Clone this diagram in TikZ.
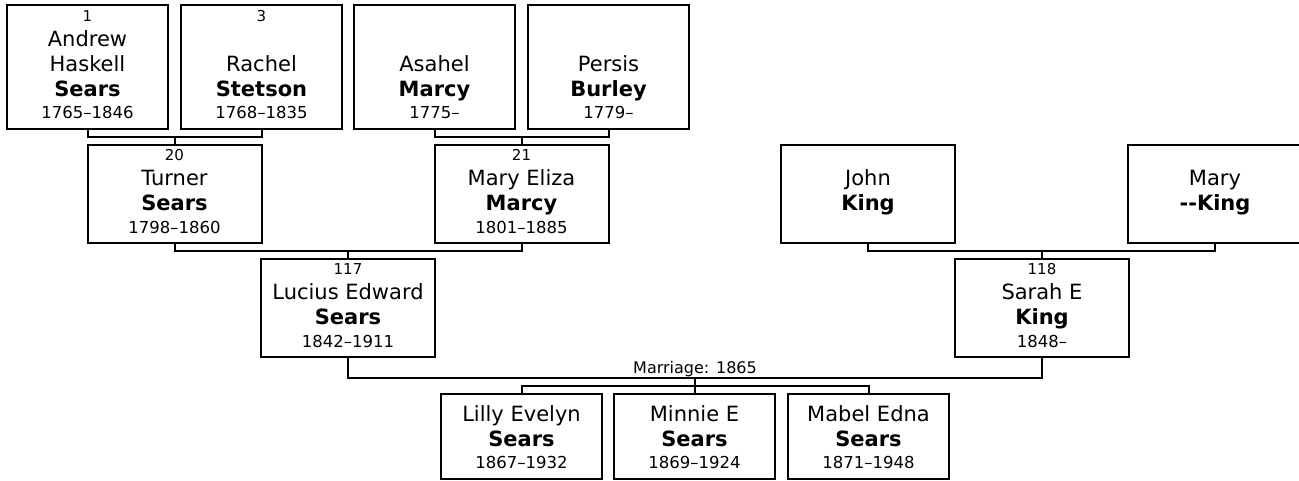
\documentclass[tikz,border=0pt]{standalone}
\usepackage{fontspec}
\setmainfont{DejaVu Sans}
\usepackage{tikz}
\usetikzlibrary{calc,positioning}
\newcommand{\idno}[1]{\rule{0pt}{16pt}{\fontsize{15}{25}\selectfont #1}}
\newcommand{\kidtop}{\rule{0pt}{27.5pt}}
\newcommand{\sname}[1]{{\bfseries #1}}
\newcommand{\years}[1]{{\fontsize{16.5}{25}\selectfont #1}\rule[-10pt]{0pt}{10pt}}
\tikzset{
  person/.style={draw,line width=2pt,inner sep=0pt,outer sep=0pt,align=center,
                 font=\fontsize{21}{25}\selectfont},
  elder/.style={person,minimum width=161pt,minimum height=124pt},
  parent/.style={person,minimum width=174pt,minimum height=98pt},
  child/.style={person,minimum width=161pt,minimum height=85pt},
  link/.style={line width=2pt},
  note/.style={inner sep=0pt,font=\fontsize{16}{20}\selectfont}
}

\begin{document}
\begin{tikzpicture}[x=1pt,y=1pt]
  \useasboundingbox (0,0) rectangle (1299,-481);

  % Great-grandparents
  \node[elder] (andrew) at (87.5,-67)
    {\idno{1}\\ Andrew\\ Haskell\\ \sname{Sears}\\[-2.7pt] \years{1765–1846}};
  \node[elder,right=13pt of andrew] (rachel)
    {\idno{3}\\ \\ Rachel\\ \sname{Stetson}\\[-2.7pt] \years{1768–1835}};
  \node[elder] (asahel) at (434.5,-67)
    {\idno{}\\ \\ Asahel\\ \sname{Marcy}\\[-2.7pt] \years{1775–}};
  \node[elder,right=13pt of asahel] (persis)
    {\idno{}\\ \\ Persis\\ \sname{Burley}\\[-2.7pt] \years{1779–}};

  % Grandparents
  \node[parent] (turner) at (174.5,-194)
    {\idno{20}\\ Turner\\ \sname{Sears}\\[-2.7pt] \years{1798–1860}};
  \node[parent] (maryeliza) at (521.5,-194)
    {\idno{21}\\ Mary Eliza\\ \sname{Marcy}\\[-2.7pt] \years{1801–1885}};
  \node[parent] (john) at (868,-194)
    {\idno{}\\ John\\ \sname{King}\\[-2.7pt] \years{}};
  \node[parent] (mary) at (1215,-194)
    {\idno{}\\ Mary\\ \sname{\mbox{-}\mbox{-}King}\\[-2.7pt] \years{}};

  % Parents
  \node[parent] (lucius) at (348,-308)
    {\idno{117}\\ Lucius Edward\\ \sname{Sears}\\[-2.7pt] \years{1842–1911}};
  \node[parent] (sarah) at (1042,-308)
    {\idno{118}\\ Sarah E\\ \sname{King}\\[-2.7pt] \years{1848–}};

  % Children
  \node[child] (lilly) at (521.5,-436.5)
    {\kidtop Lilly Evelyn\\ \sname{Sears}\\[-2.7pt] \years{1867–1932}};
  \node[child,right=12pt of lilly] (minnie)
    {\kidtop Minnie E\\ \sname{Sears}\\[-2.7pt] \years{1869–1924}};
  \node[child,right=13pt of minnie] (mabel)
    {\kidtop Mabel Edna\\ \sname{Sears}\\[-2.7pt] \years{1871–1948}};

  % Couples and their child
  \coordinate (u1) at ($(andrew.south)!0.5!(rachel.south)+(0,-8)$);
  \draw[link] (andrew.south) |- (u1) -| (rachel.south);
  \draw[link] (u1) -- (u1 |- turner.north);

  \coordinate (u2) at ($(asahel.south)!0.5!(persis.south)+(0,-8)$);
  \draw[link] (asahel.south) |- (u2) -| (persis.south);
  \draw[link] (u2) -- (u2 |- maryeliza.north);

  \coordinate (u3) at ($(turner.south)!0.5!(maryeliza.south)+(0,-8)$);
  \draw[link] (turner.south) |- (u3) -| (maryeliza.south);
  \draw[link] (u3) -- (u3 |- lucius.north);

  \coordinate (u4) at ($(john.south)!0.5!(mary.south)+(0,-8)$);
  \draw[link] (john.south) |- (u4) -| (mary.south);
  \draw[link] (u4) -- (u4 |- sarah.north);

  % Marriage and children
  \coordinate (wed) at ($(lucius.south)!0.5!(sarah.south)+(0,-21)$);
  \draw[link] (lucius.south) |- (wed) -| (sarah.south);
  \node[note,anchor=base] (marriage) at ($(wed)+(0,5)$) {Marriage: 1865};
  \coordinate (kids) at ($(wed)+(0,-8)$);
  \draw[link] (wed) -- (kids);
  \draw[link] (lilly.north) |- (kids) -| (mabel.north);
  \draw[link] (kids) -- (kids |- minnie.north);
\end{tikzpicture}
\end{document}
